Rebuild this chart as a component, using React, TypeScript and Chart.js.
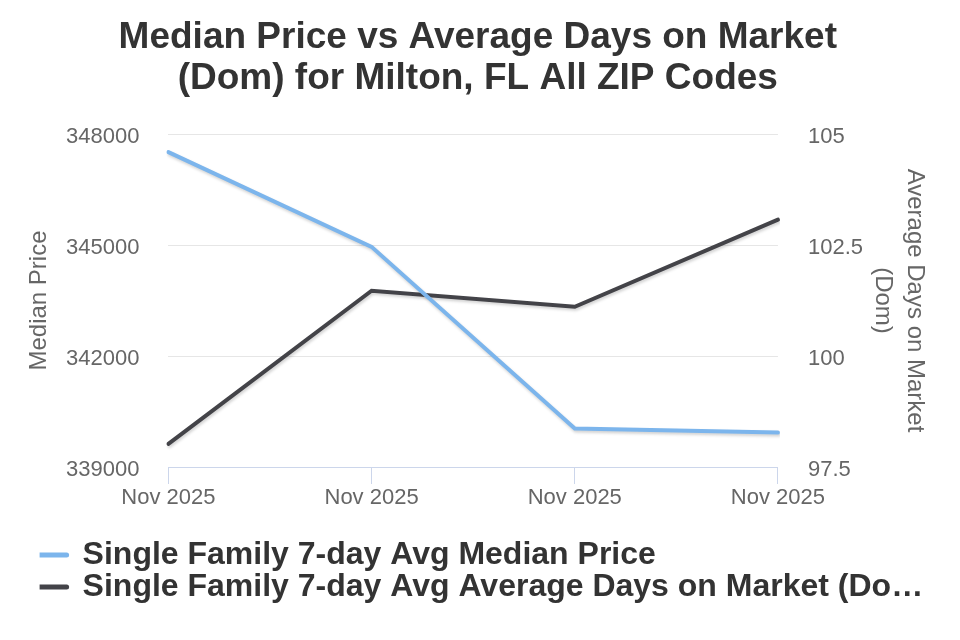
import React, { useEffect, useRef } from "react";
import { Chart, registerables } from "chart.js";

Chart.register(...registerables);

const categories = ["Nov 2025", "Nov 2025", "Nov 2025", "Nov 2025"];
const medianPrice = [347510, 344950, 340040, 339930];
const avgDom = [98.02, 101.47, 101.11, 103.07];
const seriesNames = [
  "Single Family 7-day Avg Median Price",
  "Single Family 7-day Avg Average Days on Market (Dom)",
];
const titleLines = ["Median Price vs Average Days on Market", "(Dom) for Milton, FL All ZIP Codes"];
const leftTitle = "Median Price";
const rightTitle = ["Average Days on Market", "(Dom)"];

const FONT = "'Liberation Sans', Arial, sans-serif";
const BLUE = "#7cb5ec";
const DARK = "#434348";

// soft drop shadow under each line
const lineShadow = {
  id: "lineShadow",
  beforeDatasetDraw(chart: any) {
    const ctx = chart.ctx;
    ctx.save();
    ctx.shadowColor = "rgba(0,0,0,0.18)";
    ctx.shadowBlur = 3;
    ctx.shadowOffsetX = 1;
    ctx.shadowOffsetY = 2;
  },
  afterDatasetDraw(chart: any) {
    chart.ctx.restore();
  },
};

// indent the bottom legend a little from the canvas edge
const legendIndent = {
  id: "legendIndent",
  afterLayout(chart: any) {
    if (chart.legend) chart.legend.left += 15;
  },
};

function truncate(text: string, max: number) {
  return text.length > max ? text.slice(0, max - 1) + "…" : text;
}

export default function App() {
  const ref = useRef<HTMLCanvasElement | null>(null);

  useEffect(() => {
    document.body.style.margin = "0";
    const canvas = ref.current;
    if (!canvas) return;
    const chart = new Chart(canvas, {
      type: "line",
      data: {
        labels: categories,
        datasets: [
          {
            label: seriesNames[0],
            data: medianPrice,
            borderColor: BLUE,
            backgroundColor: BLUE,
            borderWidth: 4,
            pointRadius: 0,
            tension: 0,
            yAxisID: "y",
            borderCapStyle: "round",
          },
          {
            label: seriesNames[1],
            data: avgDom,
            borderColor: DARK,
            backgroundColor: DARK,
            borderWidth: 4,
            pointRadius: 0,
            tension: 0,
            yAxisID: "y1",
            borderCapStyle: "round",
          },
        ],
      },
      options: {
        animation: false,
        responsive: false,
        layout: { padding: { left: 24.6, right: 29, top: 17, bottom: 27 } },
        plugins: {
          title: {
            display: true,
            text: titleLines,
            color: "#333333",
            font: { family: FONT, size: 37, weight: "bold", lineHeight: 41 / 37 },
            padding: { top: 0, bottom: 35 },
          },
          legend: {
            position: "bottom",
            align: "start",
            labels: {
              color: "#333333",
              font: { family: FONT, size: 32, weight: "bold" },
              usePointStyle: true,
              pointStyle: "line",
              pointStyleWidth: 27,
              padding: 0,
              generateLabels(chart: any) {
                return chart.data.datasets.map((ds: any, i: number) => ({
                  text: truncate(ds.label, 51),
                  fillStyle: ds.borderColor,
                  strokeStyle: ds.borderColor,
                  lineWidth: 5,
                  lineCap: "round",
                  pointStyle: "line",
                  hidden: !chart.isDatasetVisible(i),
                  datasetIndex: i,
                  fontColor: "#333333",
                }));
              },
            },
          },
          tooltip: { enabled: false },
        },
        scales: {
          x: {
            grid: {
              drawOnChartArea: false,
              drawTicks: true,
              tickLength: 17,
              color: "#ccd6eb",
              offset: false,
            },
            border: { color: "#ccd6eb", width: 1 },
            offset: false,
            ticks: {
              color: "#666666",
              font: { family: FONT, size: 22 },
              padding: 1,
              maxRotation: 0,
              autoSkip: false,
            },
            afterFit(scale: any) {
              scale.height += 26.6;
            },
          },
          y: {
            position: "left",
            min: 339000,
            max: 348000,
            ticks: {
              stepSize: 3000,
              color: "#666666",
              font: { family: FONT, size: 22 },
              padding: 29,
              labelOffset: 3,
              callback: (v: any) => String(v),
            },
            grid: { color: "#e6e6e6", drawTicks: false, lineWidth: 1 },
            border: { display: false },
            title: {
              display: true,
              text: leftTitle,
              color: "#666666",
              font: { family: FONT, size: 24, lineHeight: 1.2 },
              padding: { top: 0, bottom: 12.6 },
            },
            afterFit(scale: any) {
              // tick padding is reserved on both sides of the labels; keep only the inner gap
              scale.width -= 29;
            },
          },
          y1: {
            position: "right",
            min: 97.5,
            max: 105,
            ticks: {
              stepSize: 2.5,
              color: "#666666",
              font: { family: FONT, size: 22 },
              padding: 30,
              labelOffset: 3,
              callback: (v: any) => String(v),
            },
            grid: { drawOnChartArea: false, drawTicks: false },
            border: { display: false },
            title: {
              display: true,
              text: rightTitle,
              color: "#666666",
              font: { family: FONT, size: 24, lineHeight: 32 / 24 },
              padding: { top: 0, bottom: 4 },
            },
            afterFit(scale: any) {
              scale.width -= 30;
            },
          },
        },
      },
      plugins: [lineShadow, legendIndent],
    });
    return () => chart.destroy();
  }, []);

  return <canvas ref={ref} width={960} height={640} style={{ display: "block" }} />;
}
